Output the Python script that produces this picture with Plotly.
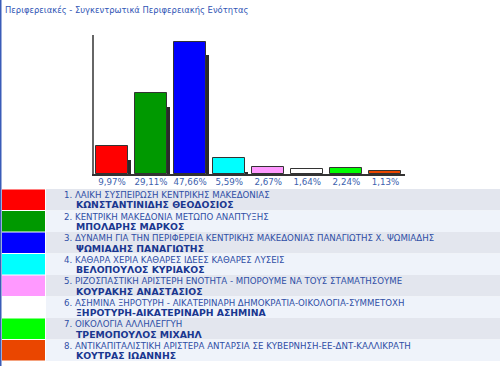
import plotly.graph_objects as go

# ---- data ----
title_text = "Περιφερειακές - Συγκεντρωτικά Περιφερειακής Ενότητας"
percents = [9.97, 29.11, 47.66, 5.59, 2.67, 1.64, 2.24, 1.13]
pct_labels = ["9,97%", "29,11%", "47,66%", "5,59%", "2,67%", "1,64%", "2,24%", "1,13%"]
colors = ["#ff0000", "#009900", "#0000ff", "#00ffff", "#ff99ff", "#ffffff", "#00ff00", "#ea4600"]
parties = [
    "1. ΛΑΙΚΗ ΣΥΣΠΕΙΡΩΣΗ ΚΕΝΤΡΙΚΗΣ ΜΑΚΕΔΟΝΙΑΣ",
    "2. ΚΕΝΤΡΙΚΗ ΜΑΚΕΔΟΝΙΑ ΜΕΤΩΠΟ ΑΝΑΠΤΥΞΗΣ",
    "3. ΔΥΝΑΜΗ ΓΙΑ ΤΗΝ ΠΕΡΙΦΕΡΕΙΑ ΚΕΝΤΡΙΚΗΣ ΜΑΚΕΔΟΝΙΑΣ ΠΑΝΑΓΙΩΤΗΣ Χ. ΨΩΜΙΑΔΗΣ",
    "4. ΚΑΘΑΡΑ ΧΕΡΙΑ ΚΑΘΑΡΕΣ ΙΔΕΕΣ ΚΑΘΑΡΕΣ ΛΥΣΕΙΣ",
    "5. ΡΙΖΟΣΠΑΣΤΙΚΗ ΑΡΙΣΤΕΡΗ ΕΝΟΤΗΤΑ - ΜΠΟΡΟΥΜΕ ΝΑ ΤΟΥΣ ΣΤΑΜΑΤΗΣΟΥΜΕ",
    "6. ΑΣΗΜΙΝΑ ΞΗΡΟΤΥΡΗ - ΑΙΚΑΤΕΡΙΝΑΡΗ ΔΗΜΟΚΡΑΤΙΑ-ΟΙΚΟΛΟΓΙΑ-ΣΥΜΜΕΤΟΧΗ",
    "7. ΟΙΚΟΛΟΓΙΑ ΑΛΛΗΛΕΓΓΥΗ",
    "8. ΑΝΤΙΚΑΠΙΤΑΛΙΣΤΙΚΗ ΑΡΙΣΤΕΡΑ ΑΝΤΑΡΣΙΑ ΣΕ ΚΥΒΕΡΝΗΣΗ-ΕΕ-ΔΝΤ-ΚΑΛΛΙΚΡΑΤΗ",
]
candidates = [
    "ΚΩΝΣΤΑΝΤΙΝΙΔΗΣ ΘΕΟΔΟΣΙΟΣ",
    "ΜΠΟΛΑΡΗΣ ΜΑΡΚΟΣ",
    "ΨΩΜΙΑΔΗΣ ΠΑΝΑΓΙΩΤΗΣ",
    "ΒΕΛΟΠΟΥΛΟΣ ΚΥΡΙΑΚΟΣ",
    "ΚΟΥΡΑΚΗΣ ΑΝΑΣΤΑΣΙΟΣ",
    "ΞΗΡΟΤΥΡΗ-ΑΙΚΑΤΕΡΙΝΑΡΗ ΑΣΗΜΙΝΑ",
    "ΤΡΕΜΟΠΟΥΛΟΣ ΜΙΧΑΗΛ",
    "ΚΟΥΤΡΑΣ ΙΩΑΝΝΗΣ",
]

W, H = 500, 366
FONT = "DejaVu Sans"
xs = list(range(len(percents)))

fig = go.Figure()

# shadow strips (right side, lowered)
shadow_h = [max(v - 5.0, 0) for v in percents]
fig.add_trace(go.Bar(
    x=xs, y=shadow_h, width=[3 / 39] * len(xs), offset=[0.41] * len(xs),
    marker=dict(color="#2a2a2a", line=dict(width=0)), hoverinfo="skip", showlegend=False,
))
# main bars
fig.add_trace(go.Bar(
    x=xs, y=percents, width=[0.82] * len(xs), offset=[-0.41] * len(xs),
    marker=dict(color=colors, line=dict(color="#333333", width=1)),
    showlegend=False,
))

def px_x(p):
    return p / W

def px_y(p):
    return 1 - p / H

shapes = []
annotations = []

# left blue border
shapes.append(dict(type="rect", xref="paper", yref="paper", x0=0, x1=px_x(1.5), y0=0, y1=1,
                   fillcolor="#3a5cb8", line=dict(width=0), layer="below"))

row_top0 = 189.0
row_h = 21.5
for i in range(len(parties)):
    top = row_top0 + i * row_h
    bg = "#e3e6ee" if i % 2 == 0 else "#eff3fa"
    shapes.append(dict(type="rect", xref="paper", yref="paper",
                       x0=px_x(46), x1=1, y0=px_y(top + row_h), y1=px_y(top),
                       fillcolor=bg, line=dict(width=0), layer="below"))
    shapes.append(dict(type="rect", xref="paper", yref="paper",
                       x0=px_x(2), x1=px_x(45), y0=px_y(top + row_h - 0.5), y1=px_y(top + 0.5),
                       fillcolor=colors[i], line=dict(width=0), layer="below"))
    annotations.append(dict(xref="paper", yref="paper", x=px_x(62), y=px_y(top + 6.2),
                            xanchor="left", yanchor="middle", showarrow=False, text=parties[i],
                            font=dict(family=FONT, size=8.65, color="#2f4fa6")))
    annotations.append(dict(xref="paper", yref="paper", x=px_x(74), y=px_y(top + 16),
                            xanchor="left", yanchor="middle", showarrow=False,
                            text="<b>" + candidates[i] + "</b>",
                            font=dict(family=FONT, size=9.3, color="#1a3790")))

annotations.append(dict(xref="paper", yref="paper", x=px_x(3), y=px_y(10),
                        xanchor="left", yanchor="middle", showarrow=False, text=title_text,
                        font=dict(family=FONT, size=8.4, color="#2f55b5")))

fig.update_layout(
    width=W, height=H, margin=dict(l=0, r=0, t=0, b=0),
    paper_bgcolor="white", plot_bgcolor="white",
    barmode="overlay", bargap=0,
    shapes=shapes, annotations=annotations,
    xaxis=dict(domain=[94 / W, 405 / W], range=[-0.46, 7.5],
               tickmode="array", tickvals=xs, ticktext=pct_labels,
               tickfont=dict(family=FONT, size=8.7, color="#3d5fae"),
               ticklabelstandoff=-1,
               showline=True, linecolor="#333333", linewidth=1.5,
               showgrid=False, zeroline=False, ticks="", fixedrange=True),
    yaxis=dict(domain=[1 - 174 / H, 1 - 35 / H], range=[0, 50],
               showline=True, linecolor="#666666", linewidth=2,
               showticklabels=False, showgrid=False, zeroline=False, ticks="", fixedrange=True),
    hovermode=False,
)

fig.write_html("out.html")
